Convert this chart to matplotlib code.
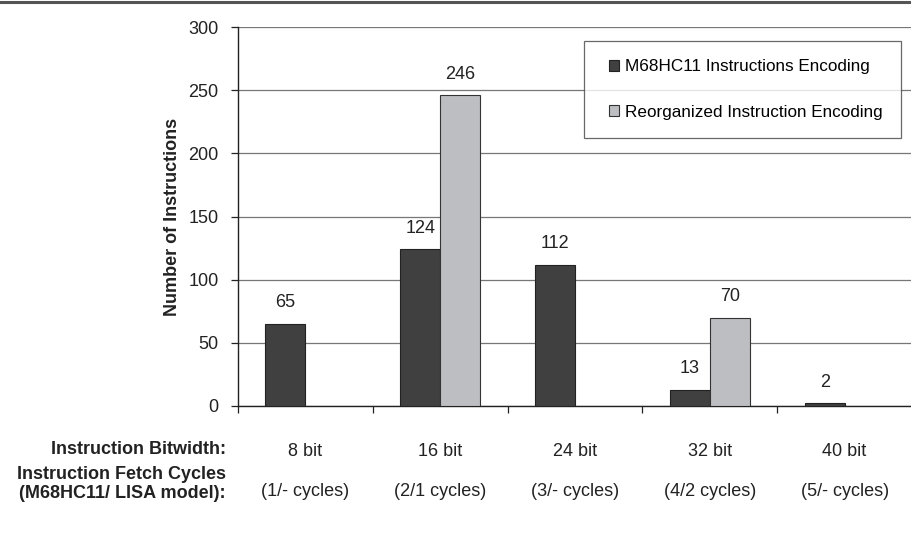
import matplotlib
matplotlib.use("Agg")
import matplotlib.pyplot as plt
from matplotlib.patches import Patch, Rectangle
from matplotlib.lines import Line2D
from matplotlib.legend_handler import HandlerPatch
import matplotlib.transforms as mtransforms

plt.rcParams['font.family'] = ['Liberation Sans', 'DejaVu Sans']

bitwidths = ["8 bit", "16 bit", "24 bit", "32 bit", "40 bit"]
fetch_cycles = ["(1/- cycles)", "(2/1 cycles)", "(3/- cycles)", "(4/2 cycles)", "(5/- cycles)"]
m68hc11_counts = [65, 124, 112, 13, 2]
reorganized_counts = [None, 246, None, 70, None]
series_names = ["M68HC11 Instructions Encoding", "Reorganized Instruction Encoding"]
y_ticks = [0, 50, 100, 150, 200, 250, 300]

dark = "#404040"
light = "#bdbec2"
txt = "#222222"
fs = 13

fig = plt.figure(figsize=(9.12, 5.54), dpi=100)
ax = fig.add_axes([238 / 912, (554 - 406) / 554, 1 - 238 / 912, (406 - 27) / 554])

# rule across the top of the figure
fig.add_artist(Line2D([0, 1], [0.996, 0.996], transform=fig.transFigure,
                      color="#555555", lw=2.2))

w = 40 / 135
for i, (a, b) in enumerate(zip(m68hc11_counts, reorganized_counts)):
    ax.bar(i - w / 2, a, width=w, color=dark, edgecolor="#222222", linewidth=0.8, zorder=3)
    ax.annotate(str(a), (i - w / 2, a), xytext=(0, 9), textcoords="offset points",
                ha="center", va="bottom", fontsize=fs, color=txt)
    if b is not None:
        ax.bar(i + w / 2, b, width=w, color=light, edgecolor="#333333", linewidth=0.8, zorder=3)
        ax.annotate(str(b), (i + w / 2, b), xytext=(0, 9), textcoords="offset points",
                    ha="center", va="bottom", fontsize=fs, color=txt)

ax.set_xlim(-0.5, 4.5)
ax.set_ylim(0, 300)
ax.set_yticks(y_ticks)
ax.tick_params(axis="y", direction="out", length=5, width=0.9, labelsize=fs,
               colors=txt, pad=9)
ax.yaxis.grid(True, color="#777777", lw=0.9, zorder=0)
ax.set_axisbelow(True)

ax.set_xticks([i - 0.5 for i in range(6)])
ax.set_xticklabels([])
ax.tick_params(axis="x", direction="out", length=5, width=0.9, colors=txt)

for s in ["top", "right"]:
    ax.spines[s].set_visible(False)
for s in ["left", "bottom"]:
    ax.spines[s].set_color(txt)
    ax.spines[s].set_linewidth(1.0)

ax.set_ylabel("Number of Instructions", fontsize=fs, fontweight="bold",
              color=txt, labelpad=5)

# two rows of category labels under the axis
base = mtransforms.blended_transform_factory(ax.transData, ax.transAxes)
trans1 = base + mtransforms.ScaledTranslation(0, -45 / 100, fig.dpi_scale_trans)
trans2 = base + mtransforms.ScaledTranslation(0, -86 / 100, fig.dpi_scale_trans)
for i, (bw, fc) in enumerate(zip(bitwidths, fetch_cycles)):
    ax.text(i, 0, bw, transform=trans1, ha="center", va="center", fontsize=fs, color=txt)
    ax.text(i, 0, fc, transform=trans2, ha="center", va="center", fontsize=fs, color=txt)

fig.text(226 / 912, 1 - 450 / 554, "Instruction Bitwidth:", ha="right", va="center",
         fontsize=fs, fontweight="bold", color=txt)
fig.text(226 / 912, 1 - 484 / 554, "Instruction Fetch Cycles\n(M68HC11/ LISA model):",
         ha="right", va="center", fontsize=fs, fontweight="bold", color=txt,
         linespacing=1.2)


class SquareHandler(HandlerPatch):
    """Small square key drawn at the right end of the handle box."""

    def create_artists(self, legend, orig_handle, xdescent, ydescent,
                       width, height, fontsize, trans):
        side = height
        p = Rectangle((-xdescent + width - side, -ydescent), side, side,
                      facecolor=orig_handle.get_facecolor(),
                      edgecolor=orig_handle.get_edgecolor(),
                      linewidth=orig_handle.get_linewidth(), transform=trans)
        return [p]


handles = [Patch(facecolor=dark, edgecolor="#222222", lw=0.8),
           Patch(facecolor=light, edgecolor="#333333", lw=0.8)]
leg = ax.legend(handles, series_names, loc="upper left",
                bbox_to_anchor=((584 - 238) / 674, (406 - 41) / 379),
                fontsize=12.3, frameon=True, fancybox=False, edgecolor="#444444",
                handlelength=1.0, handleheight=0.6, handletextpad=0.35,
                labelspacing=1.78, borderpad=1.07, borderaxespad=0,
                handler_map={Patch: SquareHandler()})
leg.get_frame().set_linewidth(0.9)

fig.savefig("out.png", dpi=100)
